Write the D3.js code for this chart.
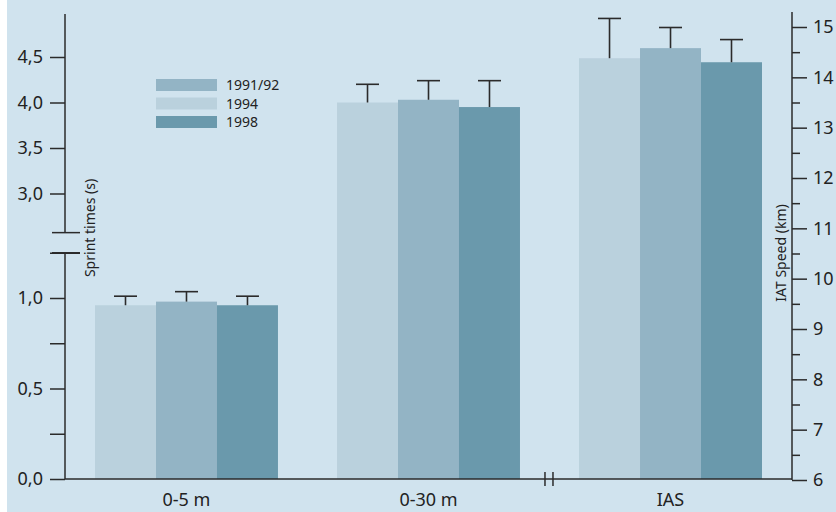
<!DOCTYPE html>
<html>
<head>
<meta charset="utf-8">
<script src="https://cdnjs.cloudflare.com/ajax/libs/d3/7.8.5/d3.min.js"></script>
<style>
  body { margin: 0; background: #fff; }
  svg { display: block; font-family: "Noto Sans", sans-serif; }
</style>
</head>
<body>
<div id="chart"></div>
<script>
// data
var groups = ["0-5 m", "0-30 m", "IAS"];
var barOrder = ["1994", "1991/92", "1998"];      // order of bars inside a group
var legendOrder = ["1991/92", "1994", "1998"];   // order in the legend box
var values = {
  "1994":    [0.96, 4.00, 14.38],
  "1991/92": [0.98, 4.03, 14.58],
  "1998":    [0.96, 3.95, 14.30]
};
var errors = {
  "1994":    [0.05, 0.20, 0.79],
  "1991/92": [0.055, 0.21, 0.41],
  "1998":    [0.05, 0.29, 0.45]
};
var colors = { "1991/92": "#93b4c5", "1994": "#bad1dd", "1998": "#6a99ac" };
var lowTicks = [0, 0.25, 0.5, 0.75, 1.0, 1.25];
var lowLabels = [0, 0.5, 1.0];
var highTicks = [3.0, 3.5, 4.0, 4.5];
var rightTicks = [6, 7, 8, 9, 10, 11, 12, 13, 14, 15];
var rightMinor = [6.5, 7.5, 8.5, 9.5, 10.5, 11.5, 12.5, 13.5, 14.5];

var W = 836, H = 512;
var axisX = 65, rightX = 792, baseY = 479;
var ink = "#2b2b2b";

var svg = d3.select("#chart").append("svg").attr("width", W).attr("height", H);
svg.append("rect").attr("x", 7).attr("y", 0).attr("width", W - 7).attr("height", H).attr("fill", "#d0e3ee");

var comma = d3.formatLocale({decimal: ",", thousands: ".", grouping: [3], currency: ["", ""]}).format(".1f");

// scales
var x = d3.scaleBand().domain(groups).range([axisX, rightX]).paddingInner(0.244).paddingOuter(0.124);
var xs = d3.scaleBand().domain(barOrder).range([0, x.bandwidth()]);
var yLow = d3.scaleLinear().domain([0, 1]).range([baseY, 298]);
var yHigh = d3.scaleLinear().domain([3, 4.5]).range([193.5, 57]);
var yRight = d3.scaleLinear().domain([6, 15]).range([480, 27]);
var scaleFor = [yLow, yHigh, yRight];
var baseFor = [yLow(0), yLow(0), yRight(6)];

// bars
barOrder.forEach(function(s) {
  var g = svg.append("g");
  groups.forEach(function(gr, i) {
    var sc = scaleFor[i];
    var v = values[s][i], e = errors[s][i];
    var bx = x(gr) + xs(s), cx = bx + xs.bandwidth() / 2;
    g.append("rect")
      .attr("x", bx).attr("width", xs.bandwidth())
      .attr("y", sc(v)).attr("height", baseY - sc(v))
      .attr("fill", colors[s]);
    g.append("line").attr("x1", cx).attr("x2", cx).attr("y1", sc(v)).attr("y2", sc(v + e))
      .attr("stroke", ink).attr("stroke-width", 1.6);
    g.append("line").attr("x1", cx - 11.5).attr("x2", cx + 11.5).attr("y1", sc(v + e)).attr("y2", sc(v + e))
      .attr("stroke", ink).attr("stroke-width", 1.6);
  });
});

// left axis, lower part
var lowAxis = svg.append("g").attr("transform", "translate(" + axisX + ",0)")
  .call(d3.axisLeft(yLow).tickValues(lowTicks).tickSize(15).tickPadding(7)
    .tickFormat(function(d) { return lowLabels.indexOf(d) >= 0 ? comma(d) : ""; }));
lowAxis.select(".domain").remove();
lowAxis.selectAll(".tick").filter(function(d) { return d === 1.25; }).select("line").attr("x1", 15);
// left axis, upper part
var highAxis = svg.append("g").attr("transform", "translate(" + axisX + ",0)")
  .call(d3.axisLeft(yHigh).tickValues(highTicks).tickSize(15).tickPadding(7).tickFormat(comma));
highAxis.select(".domain").remove();

svg.append("line").attr("x1", axisX).attr("x2", axisX).attr("y1", yLow(0)).attr("y2", yLow(1.25)).attr("stroke", ink).attr("stroke-width", 1.5);
svg.append("line").attr("x1", axisX).attr("x2", axisX).attr("y1", yHigh(2.57)).attr("y2", 14).attr("stroke", ink).attr("stroke-width", 1.5);
// break marks
[yHigh(2.57), yLow(1.25)].forEach(function(yy) {
  svg.append("line").attr("x1", axisX - 13).attr("x2", axisX + 15).attr("y1", yy).attr("y2", yy)
    .attr("stroke", ink).attr("stroke-width", 1.5);
});

// right axis
var rAxis = svg.append("g").attr("transform", "translate(" + rightX + ",0)")
  .call(d3.axisRight(yRight).tickValues(rightTicks).tickSize(15).tickPadding(6).tickFormat(d3.format("d")));
rAxis.select(".domain").remove();
var rMinor = svg.append("g").attr("transform", "translate(" + rightX + ",0)")
  .call(d3.axisRight(yRight).tickValues(rightMinor).tickSize(8).tickFormat(""));
rMinor.select(".domain").remove();
svg.append("line").attr("x1", rightX).attr("x2", rightX).attr("y1", yRight(6)).attr("y2", 12).attr("stroke", ink).attr("stroke-width", 1.5);

svg.selectAll(".tick line").attr("stroke", ink).attr("stroke-width", 1.5);
svg.selectAll(".tick text").attr("fill", "#222").attr("font-size", 18).attr("font-family", "Noto Sans");

// x axis
svg.append("line").attr("x1", axisX).attr("x2", rightX).attr("y1", baseY).attr("y2", baseY).attr("stroke", ink).attr("stroke-width", 1.5);
var bx0 = x("0-30 m") + x.bandwidth() + 25;
[bx0, bx0 + 8].forEach(function(xx) {
  svg.append("line").attr("x1", xx).attr("x2", xx).attr("y1", baseY - 7).attr("y2", baseY + 7).attr("stroke", ink).attr("stroke-width", 1.5);
});
svg.selectAll(".xlab").data(groups).enter().append("text")
  .attr("x", function(d) { return x(d) + x.bandwidth() / 2; })
  .attr("y", 506).attr("text-anchor", "middle")
  .attr("font-size", 18).attr("fill", "#222").text(function(d) { return d; });

// axis titles
svg.append("text").attr("transform", "translate(95,228) rotate(-90)").attr("text-anchor", "middle")
  .attr("font-size", 14).attr("fill", "#222").text("Sprint times (s)");
svg.append("text").attr("transform", "translate(786,253) rotate(-90)").attr("text-anchor", "middle")
  .attr("font-size", 14).attr("fill", "#222").text("IAT Speed (km)");

// legend
var leg = svg.append("g").attr("transform", "translate(156,79)");
legendOrder.forEach(function(s, i) {
  leg.append("rect").attr("x", 0).attr("y", i * 18.5).attr("width", 61).attr("height", 12).attr("fill", colors[s]);
  leg.append("text").attr("x", 70).attr("y", i * 18.5 + 11).attr("font-size", 14).attr("fill", "#222").text(s);
});
</script>
</body>
</html>
